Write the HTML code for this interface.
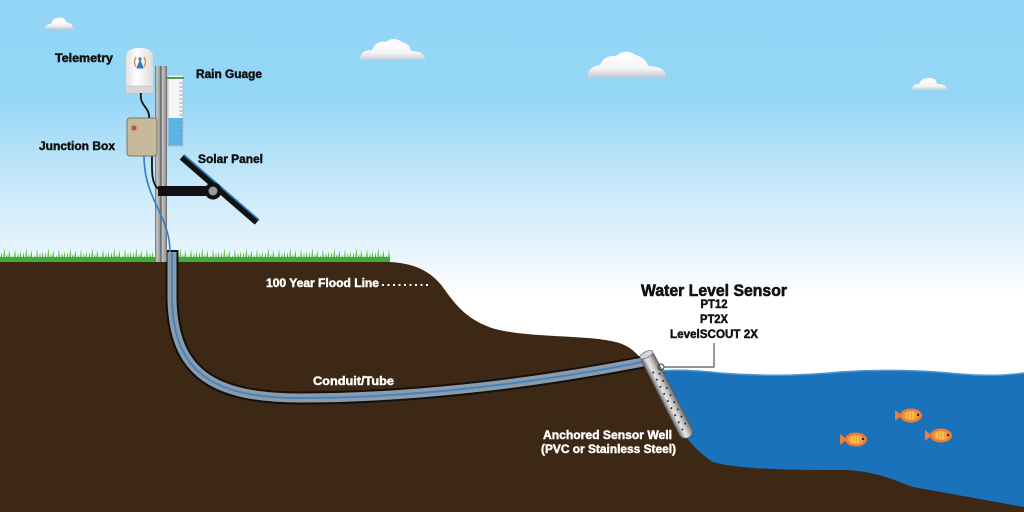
<!DOCTYPE html>
<html><head><meta charset="utf-8"><style>
html,body{margin:0;padding:0;background:#fff;}
svg{display:block;}
text{font-family:"Liberation Sans",Arial,sans-serif;font-weight:bold;}
</style></head><body>
<svg width="1024" height="512" viewBox="0 0 1024 512" xmlns="http://www.w3.org/2000/svg">
<defs>
<linearGradient id="sky" x1="0" y1="0" x2="0" y2="512" gradientUnits="userSpaceOnUse">
<stop offset="0" stop-color="#92d5f6"/>
<stop offset="0.18" stop-color="#94d6f6"/>
<stop offset="0.37" stop-color="#c8e9fa"/>
<stop offset="0.5" stop-color="#eaf6fd"/>
<stop offset="0.58" stop-color="#ffffff"/>
<stop offset="1" stop-color="#ffffff"/>
</linearGradient>
<linearGradient id="cloud" x1="0" y1="0" x2="0" y2="1">
<stop offset="0" stop-color="#ffffff"/>
<stop offset="0.65" stop-color="#f6f6f8"/>
<stop offset="1" stop-color="#c9ccd3"/>
</linearGradient>
<linearGradient id="pole" x1="0" y1="0" x2="1" y2="0">
<stop offset="0" stop-color="#666"/>
<stop offset="0.15" stop-color="#c8c8c8"/>
<stop offset="0.4" stop-color="#9a9a9a"/>
<stop offset="0.5" stop-color="#555"/>
<stop offset="0.6" stop-color="#c4c4c4"/>
<stop offset="0.85" stop-color="#a0a0a0"/>
<stop offset="1" stop-color="#666"/>
</linearGradient>
<linearGradient id="well" x1="0" y1="0" x2="1" y2="0">
<stop offset="0" stop-color="#707070"/>
<stop offset="0.35" stop-color="#e6e6e6"/>
<stop offset="0.6" stop-color="#c9c9c9"/>
<stop offset="1" stop-color="#6a6a6a"/>
</linearGradient>
<linearGradient id="tele" x1="0" y1="0" x2="1" y2="0">
<stop offset="0" stop-color="#e2e2e2"/>
<stop offset="0.4" stop-color="#ffffff"/>
<stop offset="1" stop-color="#dcdcdc"/>
</linearGradient>
<pattern id="grass" x="0" y="246" width="22" height="18" patternUnits="userSpaceOnUse">
<polygon points="0,18 1.5,6 3,18" fill="#3f9e35"/>
<polygon points="2,18 4.5,2 6,18" fill="#66c955"/>
<polygon points="5,18 7,8 8.5,18" fill="#2f8a2c"/>
<polygon points="7,18 9.5,4 11,18" fill="#58c046"/>
<polygon points="10,18 12.5,9 14,18" fill="#3a9a33"/>
<polygon points="13,18 15,3 17,18" fill="#6fd05c"/>
<polygon points="16,18 18,7 19.5,18" fill="#45a93b"/>
<polygon points="18.5,18 20.5,5 22,18" fill="#5bc24a"/>
</pattern>
<g id="fish">
<polygon points="0,2 7,7.5 0,13" fill="#f07b32"/>
<ellipse cx="16" cy="7.5" rx="11" ry="7" fill="#f07b32"/>
<ellipse cx="16" cy="7.5" rx="8" ry="4.6" fill="#f5a040"/>
<line x1="12" y1="4" x2="12" y2="11" stroke="#f7d34a" stroke-width="1.2"/>
<line x1="15" y1="3.5" x2="15" y2="11.5" stroke="#f7d34a" stroke-width="1.2"/>
<line x1="18" y1="3.5" x2="18" y2="11.5" stroke="#f7d34a" stroke-width="1.2"/>
<circle cx="23" cy="7" r="1.2" fill="#222"/>
</g>
</defs>

<!-- sky -->
<rect x="0" y="0" width="1024" height="512" fill="url(#sky)"/>

<!-- clouds -->
<g fill="url(#cloud)">
<path d="M45,29 Q45,24 51,24 Q53,17 59,18 Q64,16 66,22 Q73,23 73,29 Z"/>
<path d="M360,60 Q360,50 372,50 Q376,40 386,42 Q394,36 402,42 Q410,44 411,51 Q425,51 425,60 Z"/>
<path d="M588,77 Q588,66 600,65 Q604,55 616,56 Q625,48 636,55 Q646,58 648,66 Q666,66 666,77 Z"/>
<path d="M912,90 Q912,84 919,84 Q922,77 930,78 Q936,78 937,84 Q947,84 947,90 Z"/>
</g>

<!-- water -->
<path d="M640,372 Q680,368 720,373 Q780,378 840,372 Q900,368 960,374 Q995,377 1024,373 L1024,512 L640,512 Z" fill="#1a72ba"/>
<path d="M640,372 Q680,368 720,373 Q780,378 840,372 Q900,368 960,374 Q995,377 1024,373" fill="none" stroke="#4a97d2" stroke-width="1.5"/>

<!-- ground -->
<path d="M0,262 L385,262 C408,262 428,268 442,286 C455,304 466,320 495,329 C535,339 595,334 622,344 C640,351 650,370 668,405 C678,425 688,446 713,462 C740,470 800,470 847,470 C880,472 898,482 913,487 L1024,507 L1024,512 L0,512 Z" fill="#3d2715"/>

<!-- grass -->
<rect x="0" y="247" width="390" height="17" fill="url(#grass)"/>
<rect x="0" y="257" width="390" height="6" fill="#46aa3a"/>
<path d="M385,262 C392,262 396,263 400,265 L0,265 L0,262 Z" fill="#3d2715"/>

<!-- conduit -->
<path d="M172,250 L172,300 C174,372 212,398 300,398 C400,398 520,386 643,362" fill="none" stroke="#111" stroke-width="13"/>
<path d="M172,252 L172,300 C174,372 212,398 300,398 C400,398 520,386 643,362" fill="none" stroke="#8e9aa6" stroke-width="9"/>
<path d="M172,252 L172,300 C174,372 212,398 300,398 C400,398 520,386 643,362" fill="none" stroke="#3f86c8" stroke-width="2"/>

<!-- pole -->
<rect x="155" y="66" width="12" height="196" fill="url(#pole)"/>

<!-- rain gauge -->
<rect x="168" y="75" width="15" height="71" fill="#f4f6f8" stroke="#b8c2cc" stroke-width="1"/>
<rect x="168.5" y="118" width="14" height="27.5" fill="#5ab4e6"/>
<line x1="165" y1="78" x2="184" y2="78" stroke="#3aa65a" stroke-width="2"/>
<g stroke="#8a98a8" stroke-width="0.8">
<line x1="179" y1="83" x2="183" y2="83"/><line x1="179" y1="87" x2="183" y2="87"/><line x1="179" y1="91" x2="183" y2="91"/><line x1="179" y1="95" x2="183" y2="95"/><line x1="179" y1="99" x2="183" y2="99"/><line x1="179" y1="103" x2="183" y2="103"/><line x1="179" y1="107" x2="183" y2="107"/><line x1="179" y1="111" x2="183" y2="111"/><line x1="179" y1="115" x2="183" y2="115"/><line x1="179" y1="119" x2="183" y2="119"/><line x1="179" y1="123" x2="183" y2="123"/><line x1="179" y1="127" x2="183" y2="127"/><line x1="179" y1="131" x2="183" y2="131"/><line x1="179" y1="135" x2="183" y2="135"/><line x1="179" y1="139" x2="183" y2="139"/>
</g>

<!-- cables -->
<path d="M141,93 C139,106 150,107 149,118" fill="none" stroke="#111" stroke-width="1.8"/>
<path d="M152,156 C152,170 151,182 158,189" fill="none" stroke="#111" stroke-width="1.8"/>
<path d="M144,156 C144,200 170,215 170,252" fill="none" stroke="#2f7fc6" stroke-width="1.6"/>

<!-- telemetry -->
<path d="M126,93 L126,57 Q126,48 140,48 Q153,48 153,57 L153,93 Z" fill="url(#tele)"/>
<rect x="126" y="86" width="27" height="7" fill="#d7d7d7"/>
<line x1="126" y1="86" x2="153" y2="86" stroke="#c4c4c4" stroke-width="0.8"/>
<g>
<path d="M136,57 Q133,62 136,67" fill="none" stroke="#f08a3c" stroke-width="1.4"/>
<path d="M144,57 Q147,62 144,67" fill="none" stroke="#f08a3c" stroke-width="1.4"/>
<circle cx="140" cy="59" r="1.6" fill="#3a78c2"/>
<polygon points="140,60 137,68 143,68" fill="#3a78c2" stroke="#3a78c2" stroke-width="1"/>
</g>

<!-- junction box -->
<rect x="127" y="118" width="30" height="38" rx="3" fill="#c8b89b" stroke="#807562" stroke-width="1"/>
<circle cx="134" cy="128" r="2.6" fill="#c9503a"/>

<!-- solar panel -->
<rect x="158" y="186" width="55" height="10" fill="#111"/>
<line x1="182" y1="157" x2="257" y2="222" stroke="#111" stroke-width="7"/>
<line x1="184" y1="155" x2="259" y2="220" stroke="#2a7bc0" stroke-width="1.6"/>
<circle cx="213" cy="191" r="8.5" fill="#111"/>
<circle cx="213" cy="191" r="4.5" fill="#9a9a9a"/>

<!-- sensor well -->
<g transform="translate(645,352) rotate(-27.1)">
<rect x="-7" y="0" width="14" height="96" rx="7" fill="url(#well)" stroke="#5a5a5a" stroke-width="0.8"/>
<ellipse cx="0" cy="3" rx="7" ry="3" fill="#d8d8d8" stroke="#777" stroke-width="0.8"/>
<g fill="#333">
<circle cx="-2" cy="22" r="1"/><circle cx="3" cy="26" r="1"/><circle cx="-2" cy="30" r="1"/><circle cx="3" cy="34" r="1"/>
<circle cx="-2" cy="38" r="1"/><circle cx="3" cy="42" r="1"/><circle cx="-2" cy="46" r="1"/><circle cx="3" cy="50" r="1"/>
<circle cx="-2" cy="54" r="1"/><circle cx="3" cy="58" r="1"/><circle cx="-2" cy="62" r="1"/><circle cx="3" cy="66" r="1"/>
<circle cx="-2" cy="70" r="1"/><circle cx="3" cy="74" r="1"/><circle cx="-2" cy="78" r="1"/><circle cx="3" cy="82" r="1"/>
<circle cx="-2" cy="86" r="1"/>
</g>
</g>
<circle cx="661" cy="367" r="3" fill="none" stroke="#333" stroke-width="1"/>

<!-- leader -->
<polyline points="714,343 714,367 664,367" fill="none" stroke="#555" stroke-width="1.2"/>

<!-- flood dots -->
<line x1="382" y1="285" x2="430" y2="285" stroke="#fff" stroke-width="2" stroke-dasharray="2,3.5"/>

<!-- fish -->
<use href="#fish" x="895" y="408"/>
<use href="#fish" x="840" y="432"/>
<use href="#fish" x="925" y="428"/>

<!-- labels -->
<g fill="#111" stroke="#111" stroke-width="0.45" font-size="11.5">
<text x="55" y="62" textLength="58" lengthAdjust="spacingAndGlyphs">Telemetry</text>
<text x="196" y="78" textLength="66" lengthAdjust="spacingAndGlyphs">Rain Guage</text>
<text x="39" y="150" textLength="76" lengthAdjust="spacingAndGlyphs">Junction Box</text>
<text x="198" y="163" textLength="65" lengthAdjust="spacingAndGlyphs">Solar Panel</text>
</g>
<g fill="#fff" stroke="#fff" stroke-width="0.45" font-size="11.5">
<text x="266" y="287" textLength="113" lengthAdjust="spacingAndGlyphs">100 Year Flood Line</text>
<text x="313" y="385" textLength="81" lengthAdjust="spacingAndGlyphs">Conduit/Tube</text>
<text x="543" y="439" textLength="129" lengthAdjust="spacingAndGlyphs">Anchored Sensor Well</text>
<text x="541" y="453" textLength="135" lengthAdjust="spacingAndGlyphs">(PVC or Stainless Steel)</text>
</g>
<g fill="#111" stroke="#111" text-anchor="middle">
<text x="714" y="296" font-size="17" stroke-width="0.6" textLength="146" lengthAdjust="spacingAndGlyphs">Water Level Sensor</text>
<text x="714" y="308" font-size="11.5" stroke-width="0.45" textLength="27" lengthAdjust="spacingAndGlyphs">PT12</text>
<text x="714" y="323" font-size="11.5" stroke-width="0.45" textLength="28" lengthAdjust="spacingAndGlyphs">PT2X</text>
<text x="714" y="338" font-size="11.5" stroke-width="0.45" textLength="88" lengthAdjust="spacingAndGlyphs">LevelSCOUT 2X</text>
</g>
</svg>
</body></html>
